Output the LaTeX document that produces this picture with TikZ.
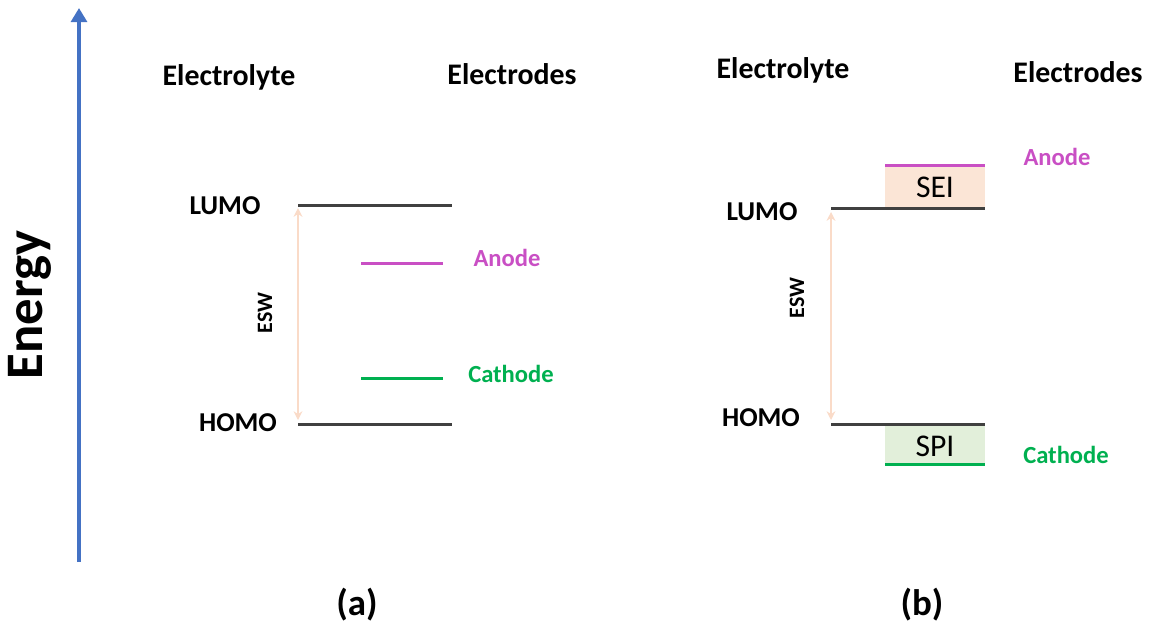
\documentclass[tikz,border=0pt]{standalone}
\usepackage{fontspec}
\setmainfont{Carlito}
\usetikzlibrary{arrows.meta, positioning, calc}

\definecolor{axisblue}{HTML}{4472C4}
\definecolor{anodepink}{HTML}{C94FC4}
\definecolor{cathgreen}{HTML}{00B050}
\definecolor{leveldark}{HTML}{404040}
\definecolor{eswpeach}{HTML}{FADBC8}
\definecolor{seifill}{HTML}{FBE5D6}
\definecolor{spifill}{HTML}{E2EFDA}

\begin{document}
\begin{tikzpicture}[
    x=0.02cm, y=-0.02cm,
    header/.style={font=\fontsize{17}{20}\selectfont\bfseries},
    orbital/.style={font=\fontsize{15.5}{18}\selectfont\bfseries},
    electrode/.style={font=\fontsize{14}{17}\selectfont\bfseries},
    esw/.style={font=\fontsize{12.5}{15}\selectfont\bfseries, rotate=90},
    level/.style={draw=leveldark, line width=1.7pt},
    anodelevel/.style={draw=anodepink, line width=1.7pt},
    cathlevel/.style={draw=cathgreen, line width=1.7pt},
    window/.style={{Stealth[length=5pt,width=5pt]}-{Stealth[length=5pt,width=5pt]}, draw=eswpeach, line width=1pt},
    layer/.style={font=\fontsize{18}{21}\selectfont, inner sep=0pt}
]
\useasboundingbox (0,0) rectangle (1153,630);

% Energy axis
\coordinate (axis0) at (79,562);
\coordinate (axis1) at (79,8);
\draw[axisblue, line width=2.3pt, -{Triangle[length=8pt,width=9pt]}] (axis0) -- (axis1);
\node[font=\fontsize{30}{34}\selectfont\bfseries, rotate=90] (energy) at (30,305) {Energy};

% Left Graph
\node[header] (ely1) at (229,77) {Electrolyte};
\node[header] (eld1) at (512,74) {Electrodes};

\node[orbital] (lumo1) at (225,206) {LUMO};
\node[orbital] (homo1) at (238,423) {HOMO};
\node[esw] (esw1) at (265,313) {ESW};
\node[electrode, text=anodepink] (an1) at (507,258) {Anode};
\node[electrode, text=cathgreen] (ca1) at (511,374) {Cathode};

\coordinate (l1s) at (298,205);
\coordinate (l1e) at (452,205);
\coordinate (h1s) at (298,424);
\coordinate (h1e) at (452,424);
\draw[level] (l1s) -- (l1e);
\draw[level] (h1s) -- (h1e);
\draw[anodelevel] (361,263) -- (443,263);
\draw[cathlevel] (361,378) -- (443,378);
\draw[window] ($(l1s)+(0,3)$) -- ($(h1s)+(0,-4)$);

\node[font=\fontsize{21}{24}\selectfont\bfseries] (capa) at (357,605) {(a)};

% Right Graph
\node[header] (ely2) at (783,70) {Electrolyte};
\node[header] (eld2) at (1078,72) {Electrodes};

\node[orbital] (lumo2) at (762,212) {LUMO};
\node[orbital] (homo2) at (761,418) {HOMO};
\node[esw] (esw2) at (797,298) {ESW};
\node[electrode, text=anodepink] (an2) at (1057,157) {Anode};
\node[electrode, text=cathgreen] (ca2) at (1066,455) {Cathode};

\fill[seifill] (885,166) rectangle (985,208);
\fill[spifill] (885,426) rectangle (985,464);
\node[layer] (sei) at (935,187) {SEI};
\node[layer] (spi) at (935,446) {SPI};

\coordinate (l2s) at (831,208);
\coordinate (l2e) at (985,208);
\coordinate (h2s) at (831,424);
\coordinate (h2e) at (985,424);
\draw[level] (l2s) -- (l2e);
\draw[level] (h2s) -- (h2e);
\draw[anodelevel] (885,165) -- (985,165);
\draw[cathlevel] (885,464) -- (985,464);
\draw[window] ($(l2s)+(0,4)$) -- ($(h2s)+(0,-4)$);

\node[font=\fontsize{21}{24}\selectfont\bfseries] (capb) at (922,605) {(b)};

\end{tikzpicture}
\end{document}
